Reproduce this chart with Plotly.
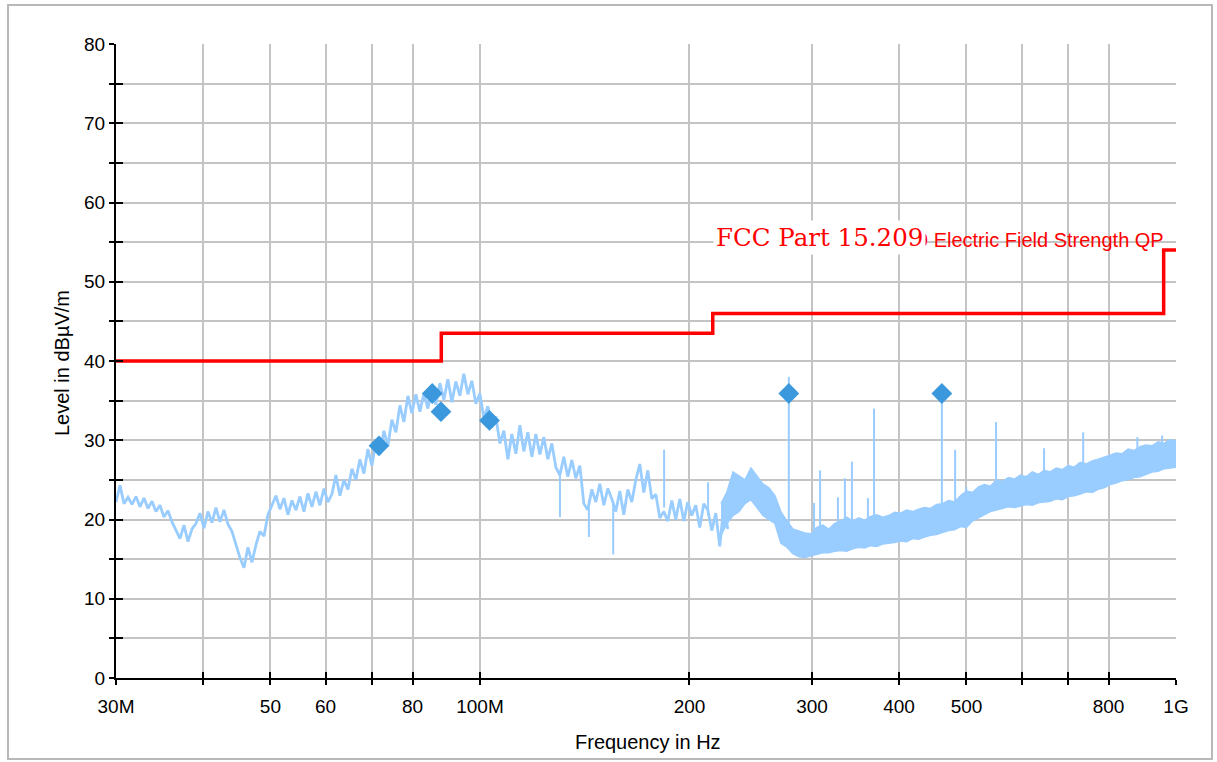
import numpy as np
import plotly.graph_objects as go

# FCC Part 15.209 quasi-peak limit (dBµV/m), stepping up at each band edge (MHz)
limit_freq = [30, 88, 216, 960, 1000]
limit_level = [40, 43.5, 46, 54, 54]

# Measured level, 30 MHz .. 227 MHz sweep (dBµV/m)
low_level = [
    22.2, 24.3, 22.0, 22.8, 21.9,
    22.9, 21.6, 22.7, 21.4, 22.3,
    21.0, 21.8, 20.3, 21.1, 19.7,
    18.6, 17.6, 19.3, 17.2, 18.8,
    19.5, 20.8, 18.9, 21.0, 19.6,
    21.5, 19.7, 21.2, 19.4, 18.5,
    16.8, 15.2, 13.9, 16.5, 14.6,
    16.8, 18.5, 17.9, 20.6, 21.8,
    23.0, 21.3, 22.7, 20.6, 22.4,
    21.2, 22.9, 21.0, 23.3, 21.6,
    23.5, 21.8, 23.9, 22.2, 23.2,
    25.6, 23.0, 25.0, 23.8, 26.4,
    25.0, 27.6, 25.8, 28.9, 26.8,
    29.8, 28.2, 31.2, 29.3, 32.6,
    31.0, 34.4, 32.3, 35.6, 33.4,
    35.8, 33.6, 35.9, 34.0, 36.4,
    34.5, 37.2, 35.1, 37.7, 34.8,
    37.4, 35.6, 38.4, 35.8, 37.5,
    34.6, 35.9, 32.8, 34.3, 31.6,
    33.0, 29.6, 31.2, 27.6, 30.8,
    28.3, 31.9, 28.6, 31.0, 27.9,
    30.8, 28.2, 30.4, 27.6, 29.6,
    26.6, 25.6, 27.9, 25.4, 27.5,
    25.2, 26.8, 22.0, 21.2, 23.8,
    22.2, 24.5, 21.8, 23.9, 22.6,
    21.0, 23.6, 20.6, 23.8, 22.2,
    25.0, 27.0, 23.4, 26.2, 22.6,
    23.2, 20.2, 21.0, 19.8, 22.4,
    20.0, 22.6, 19.8, 22.2, 20.5,
    21.8, 19.0, 22.0, 21.2, 18.6,
    20.8, 16.6, 21.7, 18.8,
]
low_freq = np.geomspace(30, 227, len(low_level))

# 222 MHz .. 1 GHz: min / max of the detector per frequency bin (dBµV/m)
band_lo = [
    18.0, 19.5, 20.5, 21.0, 22.0, 22.5, 21.5, 20.5, 20.0, 19.5,
    17.0, 16.5, 15.7, 15.3, 15.2, 15.4, 15.6, 15.8, 15.8, 16.0,
    16.1, 16.0, 16.3, 16.5, 16.4, 16.7, 16.6, 16.9, 17.0, 17.1,
    17.3, 17.2, 17.6, 17.5, 17.8, 18.0, 18.1, 18.4, 18.6, 18.7,
    19.1, 19.0, 19.8, 20.2, 20.6, 21.0, 21.2, 21.4, 21.6, 21.5,
    21.7, 21.9, 21.8, 22.1, 22.2, 22.3, 22.6, 22.5, 22.9, 23.0,
    23.2, 23.5, 23.4, 23.8, 24.0, 24.4, 24.6, 24.9, 25.0, 25.3,
    25.4, 25.7, 26.0, 26.1, 26.4, 26.5, 26.6,
]
band_hi = [
    22.0, 23.5, 26.0, 25.5, 25.0, 26.5, 25.5, 24.5, 24.0, 23.0,
    21.0, 19.8, 18.8, 18.5, 18.3, 18.2, 19.0, 19.3, 18.8, 19.5,
    19.8, 20.3, 19.8, 20.2, 19.9, 20.4, 20.6, 20.3, 20.5, 20.9,
    20.8, 21.2, 21.0, 21.3, 21.5, 21.4, 21.9, 22.0, 22.4, 22.2,
    23.0, 23.6, 23.4, 24.1, 24.4, 24.2, 25.0, 24.8, 25.3, 25.1,
    25.6, 25.4, 26.0, 25.7, 26.2, 26.0, 26.5, 26.3, 26.8, 26.6,
    27.2, 27.0, 27.4, 27.6, 27.9, 28.1, 28.4, 28.3, 28.9, 28.7,
    29.2, 29.4, 29.3, 29.8, 29.6, 30.1, 29.9,
]
band_freq = np.geomspace(222, 1000, len(band_lo))

# Narrowband spikes: frequency (MHz), level at the noise floor, level at the tip
spike_freq = [130.3, 143.4, 155.4, 183.9, 212.7, 277.8, 302.0, 308.1, 326.8,
              334.4, 342.3, 360.9, 368.3, 460.9, 481.6, 499.6, 551.4, 646.3,
              735.6, 880.0, 955.0]
spike_base = [26.0, 22.5, 22.0, 21.5, 20.5, 19.0, 17.5, 17.5, 17.8,
              18.0, 18.0, 18.2, 18.3, 20.0, 20.5, 21.0, 23.0, 24.0,
              25.0, 27.5, 28.0]
spike_top = [20.3, 17.8, 15.6, 28.8, 24.7, 38.0, 22.1, 26.2, 22.8,
             25.2, 27.3, 22.7, 34.0, 35.9, 28.8, 24.1, 32.3, 29.0,
             31.0, 30.4, 30.6]

# Final quasi-peak measurement points
peak_freq = [71.6, 85.4, 87.9, 103.2, 277.8, 460.9]
peak_level = [29.3, 35.9, 33.6, 32.5, 35.9, 35.9]

# Axis ticks
x_tickvals = [30, 40, 50, 60, 70, 80, 100, 200, 300, 400, 500, 600, 700, 800, 1000]
x_ticktext = ["30M", "", "50", "60", "", "80", "100M", "200", "300", "400",
              "500", "", "", "800", "1G"]
y_tickvals = list(range(0, 81, 5))
y_ticktext = [str(v) if v % 10 == 0 else "" for v in y_tickvals]

TRACE = "#99ccff"
MARK = "#3c98dc"
RED = "#ff0000"
FONT = "Arial, 'Liberation Sans', sans-serif"

# plot area in page pixels
L, R, T, B = 116, 41, 44, 84
PW, PH = 1217 - L - R, 762 - T - B

fig = go.Figure()

# spectrum, lower range
fig.add_trace(go.Scatter(x=low_freq, y=low_level, mode="lines",
                         line=dict(color=TRACE, width=2.8), hoverinfo="skip",
                         showlegend=False))

# spectrum, upper range as a min/max band
fig.add_trace(go.Scatter(x=band_freq, y=band_lo, mode="lines",
                         line=dict(color=TRACE, width=1.5), hoverinfo="skip",
                         showlegend=False))
fig.add_trace(go.Scatter(x=band_freq, y=band_hi, mode="lines",
                         line=dict(color=TRACE, width=1.5), fill="tonexty",
                         fillcolor=TRACE, hoverinfo="skip", showlegend=False))

# spikes as vertical strokes
sx, sy = [], []
for f, b, t in zip(spike_freq, spike_base, spike_top):
    sx += [f, f, None]
    sy += [b, t, None]
fig.add_trace(go.Scatter(x=sx, y=sy, mode="lines",
                         line=dict(color=TRACE, width=2), hoverinfo="skip",
                         showlegend=False))

# limit line
fig.add_trace(go.Scatter(x=limit_freq, y=limit_level, mode="lines",
                         line=dict(color=RED, width=3.5, shape="hv"),
                         hoverinfo="skip", showlegend=False))

# measurement markers
fig.add_trace(go.Scatter(x=peak_freq, y=peak_level, mode="markers",
                         marker=dict(symbol="diamond", size=16, color=MARK,
                                     line=dict(width=0)),
                         showlegend=False))

# overlay axes carry the inward half of the tick marks
fig.add_trace(go.Scatter(x=[None], y=[None], xaxis="x2", yaxis="y2",
                         mode="lines", hoverinfo="skip", showlegend=False))

axis_common = dict(showline=True, linecolor="black", linewidth=2,
                   ticks="outside", ticklen=5, tickwidth=2, tickcolor="black",
                   showgrid=True, gridcolor="#c4c4c4", gridwidth=1.5,
                   zeroline=False, automargin=False,
                   tickfont=dict(family=FONT, size=19, color="black"))

xr = [np.log10(30), np.log10(1000)]
fig.update_layout(
    width=1217, height=762,
    margin=dict(l=L, r=R, t=T, b=B),
    paper_bgcolor="white", plot_bgcolor="white",
    font=dict(family=FONT, color="black"),
    xaxis=dict(type="log", range=xr, tickmode="array", tickvals=x_tickvals,
               ticktext=x_ticktext, ticklabelstandoff=5, **axis_common),
    yaxis=dict(range=[0, 80], tickmode="array", tickvals=y_tickvals,
               ticktext=y_ticktext, ticklabelstandoff=0, **axis_common),
    xaxis2=dict(type="log", range=xr, overlaying="x", anchor="y", side="bottom",
                tickmode="array", tickvals=x_tickvals, ticks="inside", ticklen=6,
                tickwidth=2, tickcolor="black", showticklabels=False,
                showgrid=False, showline=False, zeroline=False),
    yaxis2=dict(range=[0, 80], overlaying="y", anchor="x", side="left",
                tickmode="array", tickvals=y_tickvals, ticks="inside", ticklen=7,
                tickwidth=2, tickcolor="black", showticklabels=False,
                showgrid=False, showline=False, zeroline=False),
    shapes=[dict(type="rect", xref="paper", yref="paper",
                 x0=(8 - L) / PW, x1=(1212 - L) / PW,
                 y0=(762 - B - 759) / PH, y1=(762 - B - 5) / PH,
                 line=dict(color="#b8b8b8", width=2), layer="below")],
    annotations=[
        # axis titles
        dict(x=(648 - L) / PW, y=(762 - B - 742) / PH, xref="paper", yref="paper",
             xanchor="center", yanchor="middle", showarrow=False,
             text="Frequency in Hz", font=dict(family=FONT, size=20, color="black")),
        dict(x=(62 - L) / PW, y=(762 - B - 363) / PH, xref="paper", yref="paper",
             xanchor="center", yanchor="middle", showarrow=False, textangle=-90,
             text="Level in dBµV/m", font=dict(family=FONT, size=20, color="black")),
        # limit line legend text
        dict(x=np.log10(968), y=55.3, xref="x", yref="y", xanchor="right",
             yanchor="middle", showarrow=False,
             text="FCC Part 15.209 Electric Field Strength QP",
             font=dict(family=FONT, size=20, color=RED)),
        dict(x=np.log10(216), y=55.6, xref="x", yref="y", xanchor="left",
             yanchor="middle", showarrow=False, text="FCC Part 15.209",
             bgcolor="white", borderpad=2,
             font=dict(family="'DejaVu Serif', serif", size=24.5, color=RED)),
    ],
)

fig.write_html("out.html")
